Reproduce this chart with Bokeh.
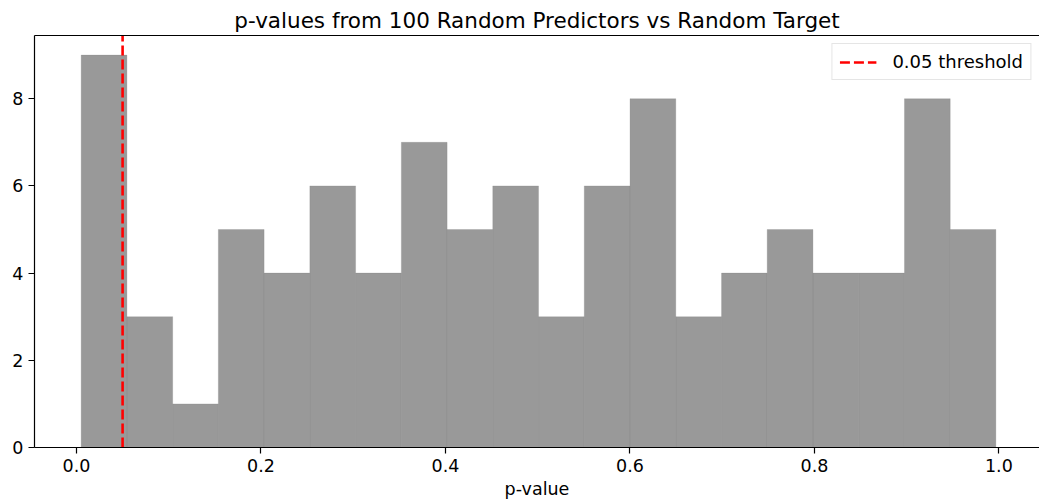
from bokeh.plotting import figure
from bokeh.models import Range1d, FixedTicker, LinearAxis, Legend, LegendItem, Title
from bokeh.embed import file_html
from bokeh.resources import INLINE

# ---- data ----
bin_edges = [0.0051, 0.0547, 0.1043, 0.1538, 0.2034, 0.2530, 0.3026, 0.3522,
             0.4018, 0.4513, 0.5009, 0.5505, 0.6001, 0.6497, 0.6993, 0.7488,
             0.7984, 0.8480, 0.8976, 0.9472, 0.9967]
counts = [9, 3, 1, 5, 4, 6, 4, 7, 5, 6, 3, 6, 8, 3, 4, 5, 4, 4, 8, 5]
threshold = 0.05
x_ticks = [0.0, 0.2, 0.4, 0.6, 0.8, 1.0]
x_tick_labels = ["0.0", "0.2", "0.4", "0.6", "0.8", "1.0"]
y_ticks = [0, 2, 4, 6, 8]
y_limits = [0, 9.45]
x_limits = [-0.0455, 1.044]

FONT = "DejaVu Sans"
TXT = "#000000"

p = figure(width=1039, height=504, output_backend="svg", toolbar_location=None,
           x_range=Range1d(*x_limits), y_range=Range1d(*y_limits),
           min_border_left=34, min_border_right=0, min_border_top=35,
           min_border_bottom=57, x_axis_location=None, y_axis_location=None)
p.outline_line_color = None
p.grid.grid_line_color = None
p.background_fill_color = "white"
p.border_fill_color = "white"

p.title = Title(text="p-values from 100 Random Predictors vs Random Target",
                align="center", text_font=FONT, text_font_size="21.5px",
                text_font_style="normal", text_color=TXT, standoff=6, offset=2)

def style_axis(ax):
    ax.axis_line_color = "#000000"
    ax.axis_line_width = 1.2
    ax.major_tick_line_color = "#000000"
    ax.major_tick_line_width = 1.2
    ax.major_tick_out = 6
    ax.major_tick_in = 0
    ax.minor_tick_line_color = None
    ax.major_label_text_font = FONT
    ax.major_label_text_font_size = "17.5px"
    ax.major_label_text_color = TXT
    ax.major_label_standoff = 5

xaxis = LinearAxis(ticker=FixedTicker(ticks=x_ticks),
                   major_label_overrides={t: l for t, l in zip(x_ticks, x_tick_labels)},
                   axis_label="p-value", axis_label_text_font=FONT,
                   axis_label_text_font_size="17.5px", axis_label_text_font_style="normal",
                   axis_label_text_color=TXT, axis_label_standoff=4)
style_axis(xaxis)
p.add_layout(xaxis, "below")

yaxis = LinearAxis(ticker=FixedTicker(ticks=y_ticks))
style_axis(yaxis)
p.add_layout(yaxis, "left")

top_axis = LinearAxis(ticker=FixedTicker(ticks=[]))
top_axis.axis_line_color = "#000000"
top_axis.axis_line_width = 1.2
top_axis.major_tick_line_color = None
top_axis.minor_tick_line_color = None
top_axis.major_label_text_font_size = "0px"
top_axis.major_label_standoff = 0
top_axis.major_tick_out = 0
p.add_layout(top_axis, "above")

p.quad(left=bin_edges[:-1], right=bin_edges[1:], top=counts, bottom=0,
       fill_color="#808080", fill_alpha=0.8, line_color="#808080",
       line_alpha=0.35, line_width=0.7)

r_line = p.line(x=[threshold, threshold], y=y_limits, line_color="#ff0000",
                line_width=2.6, line_dash="10 4")

legend = Legend(items=[LegendItem(label="0.05 threshold", renderers=[r_line])],
                location="top_right", margin=8, padding=7, spacing=0,
                glyph_width=37, glyph_height=20, label_height=20,
                label_standoff=16, label_text_font=FONT,
                label_text_font_size="18px", label_text_color=TXT,
                border_line_color="#cccccc", border_line_width=1,
                background_fill_color="white", background_fill_alpha=0.8)
p.add_layout(legend)

open("out.html", "w").write(file_html(p, INLINE))
